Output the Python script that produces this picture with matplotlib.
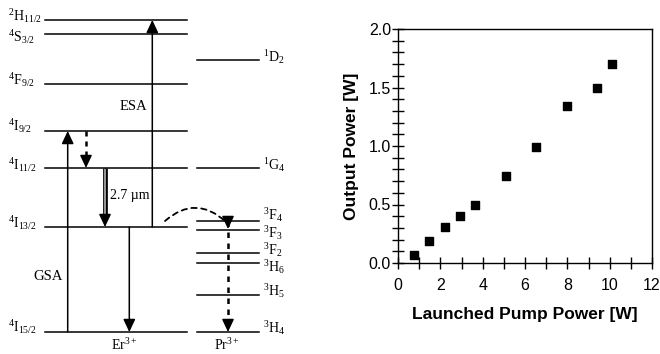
import matplotlib
matplotlib.use("Agg")
import matplotlib.pyplot as plt

plt.rcParams['mathtext.fontset'] = 'custom'
plt.rcParams['mathtext.rm'] = 'Liberation Serif'
plt.rcParams['mathtext.it'] = 'Liberation Serif:italic'

# energy level diagram (positions in picture pixels, y down)
er_levels = ['^{2}H_{11/2}', '^{4}S_{3/2}', '^{4}F_{9/2}', '^{4}I_{9/2}',
             '^{4}I_{11/2}', '^{4}I_{13/2}', '^{4}I_{15/2}']
er_y = [20, 34, 84, 131, 168, 227, 332]
er_label_y = [16.5, 37, 80, 126, 165, 223, 327]

pr_levels = ['^{1}D_{2}', '^{1}G_{4}', '^{3}F_{4}', '^{3}F_{3}', '^{3}F_{2}',
             '^{3}H_{6}', '^{3}H_{5}', '^{3}H_{4}']
pr_y = [60, 168, 221, 230, 253, 263, 295, 332]
pr_label_y = [57, 165, 215, 233, 250, 267, 291, 328]

# output power curve
pump = [0.74, 1.47, 2.21, 2.92, 3.63, 5.10, 6.52, 7.99, 9.40, 10.11]
output = [0.066, 0.19, 0.305, 0.40, 0.497, 0.745, 0.995, 1.345, 1.50, 1.70]

fig = plt.figure(figsize=(6.6, 3.54), dpi=100)

ax = fig.add_axes([0, 0, 1, 1])
ax.set_xlim(0, 660)
ax.set_ylim(354, 0)
ax.axis('off')

serif = 'Liberation Serif'
fs = 10.5

for name, y, ly in zip(er_levels, er_y, er_label_y):
    ax.plot([45, 187], [y, y], color='k', lw=1.1)
    ax.text(8, ly, '$\\mathrm{' + name + '}$', fontsize=10, va='center', ha='left')

for name, y, ly in zip(pr_levels, pr_y, pr_label_y):
    ax.plot([197, 259], [y, y], color='k', lw=1.1)
    ax.text(263, ly, '$\\mathrm{' + name + '}$', fontsize=10, va='center', ha='left')

head = dict(arrowstyle='-|>,head_length=0.7,head_width=0.33', color='k',
            lw=1.1, mutation_scale=11, shrinkA=0, shrinkB=0)

def arrow(x, y0, y1):
    ax.annotate('', xy=(x, y1), xytext=(x, y0), arrowprops=head)

def dotted_arrow(x, y0, y1):
    d = 1 if y1 > y0 else -1
    ax.plot([x, x], [y0, y1 - d * 6], color='k', lw=1.8, ls=(0, (2, 2)))
    ax.annotate('', xy=(x, y1), xytext=(x, y1 - d * 8), arrowprops=head)

# GSA, ESA
arrow(67.7, er_y[6], er_y[3])
arrow(152.3, er_y[5], er_y[0])
# non-radiative 4I9/2 -> 4I11/2
dotted_arrow(86, er_y[3], er_y[4])
# 2.7 um laser transition (double line)
ax.plot([105, 105], [er_y[4], er_y[5] - 8], color='k', lw=3.4, solid_capstyle='butt')
ax.plot([105, 105], [er_y[4] + 1, er_y[5] - 8], color='0.6', lw=1.4, solid_capstyle='butt')
ax.annotate('', xy=(105, er_y[5]), xytext=(105, er_y[5] - 9), arrowprops=head)
# 4I13/2 -> 4I15/2
arrow(129.3, er_y[5], er_y[6])
# Pr 3F4 -> 3H4
ax.plot([228, 228], [pr_y[2], pr_y[7] - 6], color='k', lw=1.8, ls=(0, (2.2, 2.2)))
ax.annotate('', xy=(228, pr_y[2] + 8), xytext=(228, pr_y[2]), arrowprops=head)
ax.annotate('', xy=(228, pr_y[7]), xytext=(228, pr_y[7] - 8), arrowprops=head)
# energy transfer Er -> Pr
ax.annotate('', xy=(226, 222), xytext=(165, 221),
            arrowprops=dict(arrowstyle='-', color='k', lw=1.3, ls=(0, (3, 2.5)),
                            shrinkA=0, shrinkB=0,
                            connectionstyle='arc3,rad=-0.45'))

ax.text(133, 107, 'ESA', family=serif, fontsize=fs, ha='center', va='center')
ax.text(48, 277, 'GSA', family=serif, fontsize=fs, ha='center', va='center')
ax.text(110, 196, '2.7 µm', family=serif, fontsize=10, ha='left', va='center')
ax.text(124, 353, 'Er$^{3+}$', family=serif, fontsize=10, ha='center', va='bottom')
ax.text(227, 353, 'Pr$^{3+}$', family=serif, fontsize=10, ha='center', va='bottom')

# right panel
bx = fig.add_axes([398 / 660, 1 - 263 / 354, 254 / 660, 234 / 354])
bx.scatter(pump, output, marker='s', s=40, color='k', zorder=3)
bx.set_xlim(0, 12)
bx.set_ylim(0, 2.0)
bx.set_xticks(range(0, 13, 2))
bx.set_xticks(range(0, 13), minor=True)
bx.set_yticks([0, 0.5, 1.0, 1.5, 2.0])
bx.set_yticks([i / 10 for i in range(21)], minor=True)
bx.set_yticklabels(['0.0', '0.5', '1.0', '1.5', '2.0'])
bx.tick_params(which='both', direction='inout', length=8, width=1,
               labelsize=11.5, right=False, top=False)
bx.tick_params(axis='x', pad=7)
bx.tick_params(axis='y', pad=1)
for lab in bx.get_xticklabels() + bx.get_yticklabels():
    lab.set_family('Liberation Sans')
for sp in bx.spines.values():
    sp.set_linewidth(1)
bx.set_xlabel('Launched Pump Power [W]', family='Liberation Sans',
              fontweight='bold', fontsize=12.5, labelpad=10)
bx.set_ylabel('Output Power [W]', family='Liberation Sans',
              fontweight='bold', fontsize=12.5, labelpad=7)

fig.savefig('out.png', dpi=100)
